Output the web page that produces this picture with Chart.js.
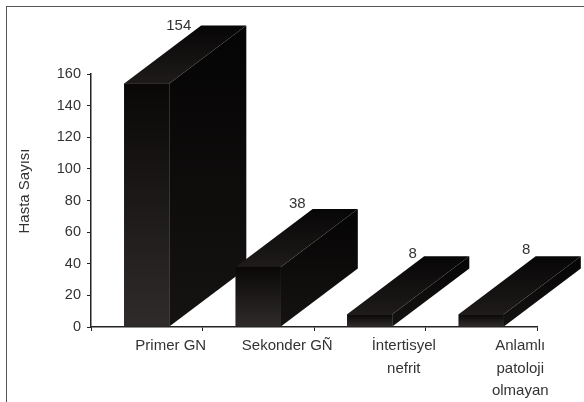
<!DOCTYPE html>
<html>
<head>
<meta charset="utf-8">
<script src="https://cdn.jsdelivr.net/npm/chart.js@4"></script>
<style>
  html, body { margin: 0; padding: 0; background: #fff; overflow: hidden; }
  #wrap { position: relative; width: 584px; height: 402px; }
  #frame { position: absolute; left: 6px; top: 6px; right: -4px; bottom: -4px; border: 1px solid #555; }
  canvas { position: absolute; left: 0; top: 0; }
</style>
</head>
<body>
<div id="wrap">
  <div id="frame"></div>
  <canvas id="chart" width="584" height="402"></canvas>
</div>
<script>
const categories = [
  "Primer GN",
  "Sekonder GÑ",
  ["İntertisyel", "nefrit"],
  ["Anlamlı", "patoloji", "olmayan"],
];
const patients = [154, 38, 8, 8];
const yTicks = [0, 20, 40, 60, 80, 100, 120, 140, 160];

const DEPTH_X = 77;
const DEPTH_Y = 58;
const TEXT = "#333";
const FONT = "Liberation Sans";

// the original labels sit off-centre, each a bit differently
const xLabelShift = [24, 29, 34, 39];
const valueLabelShift = [[32, -58], [39, -63], [43, -60], [45, -64]];

// pseudo 3d faces, hung on the bar elements chart.js has laid out
const fake3d = {
  id: "fake3d",
  beforeDraw(chart) {
    chart.scales.x.getLabelItems(chart.chartArea).forEach((item, i) => {
      item.options.translation[0] = chart.scales.x.getPixelForTick(i) + xLabelShift[i];
    });
  },
  afterDatasetsDraw(chart) {
    const ctx = chart.ctx;
    chart.getDatasetMeta(0).data.forEach((bar, i) => {
      const left = bar.x - bar.width / 2;
      const right = bar.x + bar.width / 2;
      const top = bar.y;
      const bottom = bar.base;

      ctx.save();
      const side = ctx.createLinearGradient(0, top - DEPTH_Y, 0, bottom);
      side.addColorStop(0, "#050404");
      side.addColorStop(1, "#151312");
      ctx.fillStyle = side;
      ctx.beginPath();
      ctx.moveTo(right, top);
      ctx.lineTo(right + DEPTH_X, top - DEPTH_Y);
      ctx.lineTo(right + DEPTH_X, bottom - DEPTH_Y);
      ctx.lineTo(right, bottom);
      ctx.closePath();
      ctx.fill();

      const lid = ctx.createLinearGradient(0, top - DEPTH_Y, 0, top);
      lid.addColorStop(0, "#070606");
      lid.addColorStop(1, "#1e1b1a");
      ctx.fillStyle = lid;
      ctx.beginPath();
      ctx.moveTo(left, top);
      ctx.lineTo(left + DEPTH_X, top - DEPTH_Y);
      ctx.lineTo(right + DEPTH_X, top - DEPTH_Y);
      ctx.lineTo(right, top);
      ctx.closePath();
      ctx.fill();

      const front = ctx.createLinearGradient(0, top, 0, bottom);
      front.addColorStop(0, "#0a0807");
      front.addColorStop(1, "#2e2b2a");
      ctx.fillStyle = front;
      ctx.fillRect(left, top, bar.width, bottom - top);

      ctx.fillStyle = TEXT;
      ctx.font = "15px '" + FONT + "'";
      ctx.textAlign = "center";
      ctx.textBaseline = "middle";
      ctx.fillText(String(patients[i]), bar.x + valueLabelShift[i][0], top + valueLabelShift[i][1]);
      ctx.restore();
    });

    // axis title sits above the middle of the axis in the original
    ctx.save();
    ctx.translate(25, 191);
    ctx.rotate(-Math.PI / 2);
    ctx.fillStyle = TEXT;
    ctx.font = "15px '" + FONT + "'";
    ctx.textAlign = "center";
    ctx.textBaseline = "middle";
    ctx.fillText("Hasta Sayısı", 0, 0);
    ctx.restore();
  },
};

new Chart(document.getElementById("chart"), {
  type: "bar",
  data: {
    labels: categories,
    datasets: [
      {
        data: patients,
        barPercentage: 0.405,
        categoryPercentage: 1,
        backgroundColor: "#1a1817",
      },
    ],
  },
  plugins: [fake3d],
  options: {
    responsive: false,
    animation: false,
    layout: { padding: { left: 0, top: 74, right: 47, bottom: 0 } },
    plugins: { legend: { display: false }, tooltip: { enabled: false } },
    scales: {
      x: {
        afterFit: (s) => { s.height = 75; },
        grid: { drawOnChartArea: false, drawTicks: true, tickLength: 4, color: "#222", offset: true },
        border: { color: "#222", width: 1.5 },
        ticks: { color: TEXT, font: { family: FONT, size: 15, lineHeight: 1.5 }, maxRotation: 0, autoSkip: false, padding: 4 },
      },
      y: {
        min: 0,
        max: 160,
        afterBuildTicks: (s) => { s.ticks = yTicks.map((v) => ({ value: v })); },
        afterFit: (s) => { s.width = 91; },
        grid: { drawOnChartArea: false, drawTicks: true, tickLength: 4, color: "#222" },
        border: { color: "#222", width: 1.5 },
        ticks: { color: TEXT, font: { family: FONT, size: 14.5 }, padding: 6 },
      },
    },
  },
});
</script>
</body>
</html>
